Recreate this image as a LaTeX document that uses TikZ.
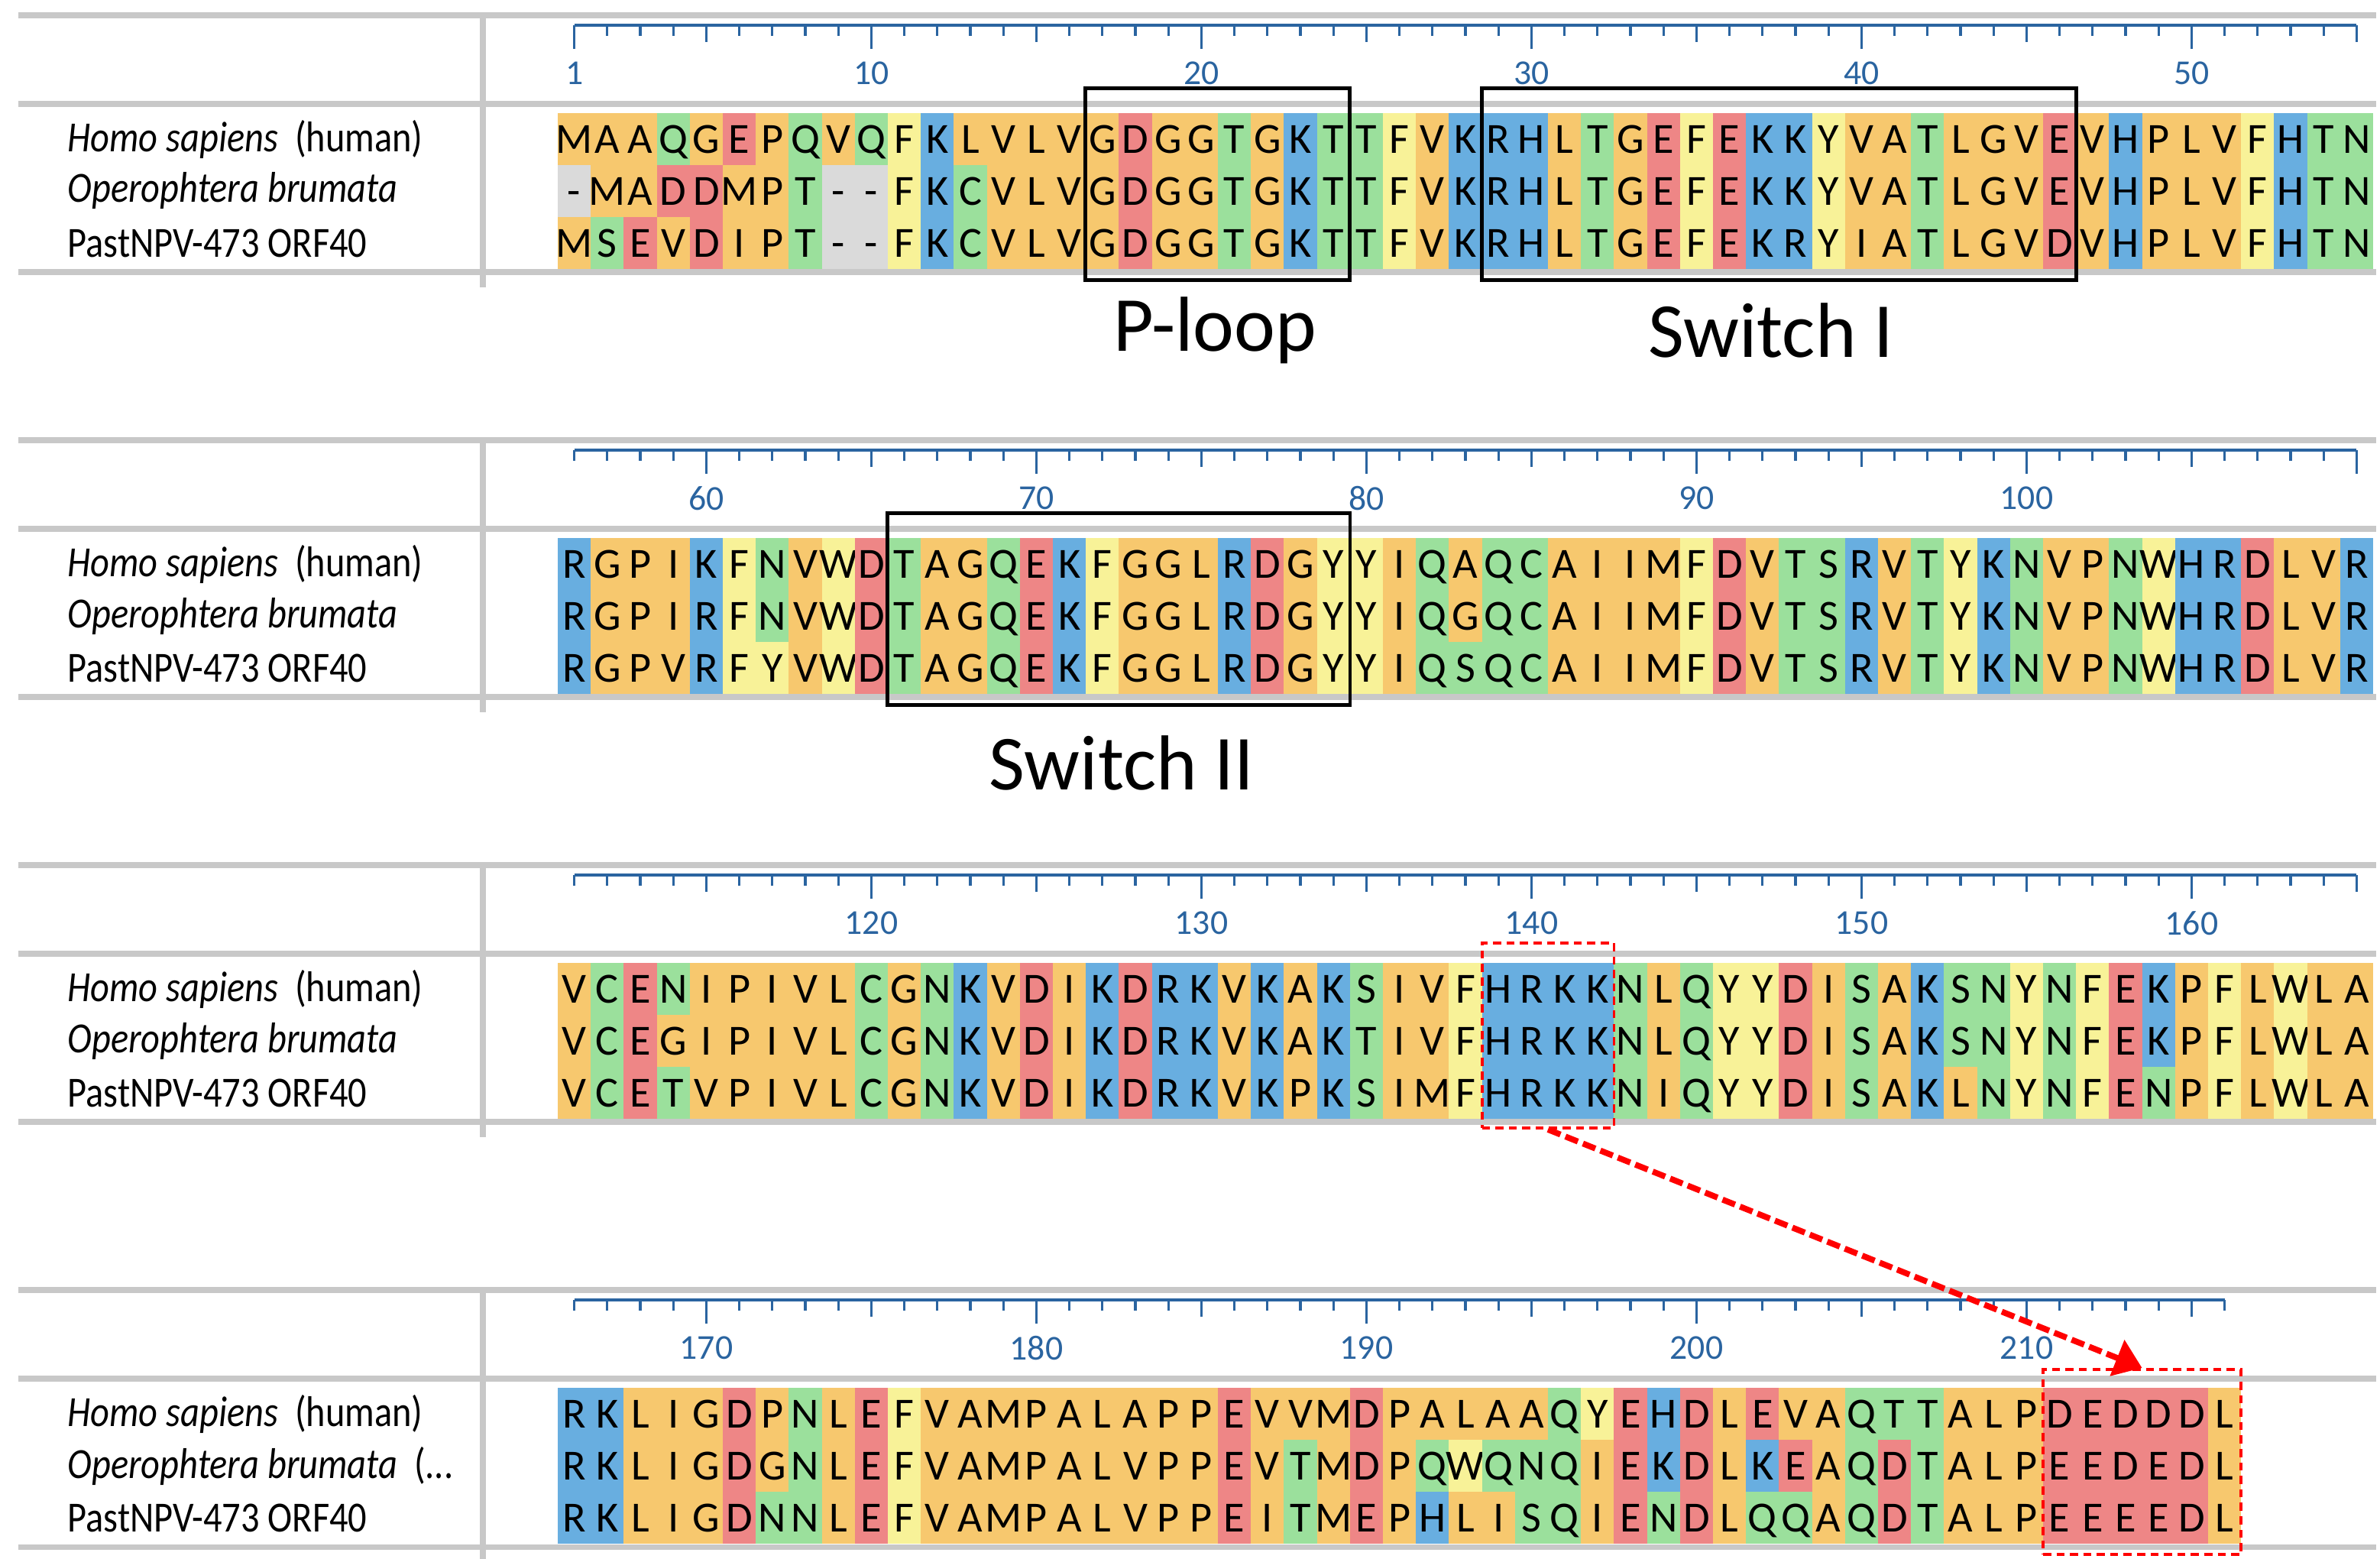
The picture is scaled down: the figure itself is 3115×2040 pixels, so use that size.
\documentclass[tikz,border=0pt]{standalone}
\usepackage{fontspec}
\setmainfont{Carlito}
\newfontfamily\labfont[FakeStretch=0.86]{Carlito}
\usetikzlibrary{arrows.meta}
\definecolor{corange}{HTML}{F7C86E}
\definecolor{cgreen}{HTML}{9BE09C}
\definecolor{cred}{HTML}{EE8686}
\definecolor{cblue}{HTML}{68AEE0}
\definecolor{cyellow}{HTML}{F8F298}
\definecolor{cgap}{HTML}{DADADA}
\definecolor{gline}{HTML}{C8C8C8}
\definecolor{rblue}{HTML}{2A64A0}
\colorlet{cA}{corange}\colorlet{cV}{corange}\colorlet{cL}{corange}\colorlet{cI}{corange}
\colorlet{cM}{corange}\colorlet{cP}{corange}\colorlet{cG}{corange}
\colorlet{cF}{cyellow}\colorlet{cY}{cyellow}\colorlet{cW}{cyellow}
\colorlet{cD}{cred}\colorlet{cE}{cred}
\colorlet{cK}{cblue}\colorlet{cR}{cblue}\colorlet{cH}{cblue}
\colorlet{cS}{cgreen}\colorlet{cT}{cgreen}\colorlet{cN}{cgreen}\colorlet{cQ}{cgreen}\colorlet{cC}{cgreen}
\newcount\ci
\def\seqrow#1#2#3{\ci=0 \def\rb{#1}\def\ry{#2}\seqloop#3\relax}
\def\seqloop#1{\ifx#1\relax\else\rescell{#1}\advance\ci by 1 \expandafter\seqloop\fi}
\def\rescell#1{\ifx#1-\def\cc{cgap}\else\def\cc{c#1}\fi
 \pgfmathsetmacro\cx{730+\the\ci*43.2}\pgfmathsetmacro\cy{\rb+148+\ry*68}%
 \fill[\cc] (\cx,\cy) rectangle ++(43.2,68);%
 \node[res] (n\rb-\ry-\the\ci) at (\cx+21.6,\cy+34) {#1};}
\def\ruler#1#2#3{% yoff, startpos, ncols
 \pgfmathsetmacro\rx{751.6+(#3-1)*43.2}
 \draw[rblue,line width=0.9pt] (751.6,#1+33) coordinate (rs#1) -- (\rx,#1+33) coordinate (re#1);
 \foreach \j in {0,...,\numexpr#3-1\relax}{
  \pgfmathtruncatemacro\pos{#2+\j}
  \pgfmathsetmacro\tx{751.6+\j*43.2}
  \pgfmathtruncatemacro\mt{mod(\pos,10)}\pgfmathtruncatemacro\mf{mod(\pos,5)}
  \def\tl{14}
  \ifnum\mf=0 \def\tl{22}\fi
  \ifnum\mt=0 \def\tl{31}\fi
  \ifnum\pos=1 \def\tl{31}\fi
  \draw[rblue,line width=0.9pt] (\tx,#1+33) -- (\tx,#1+33+\tl);
  \ifnum\j<\numexpr#3-1\relax
   \ifnum\mt=0 \node[num] (num\pos) at (\tx,#1+96) {\pos};\fi
  \fi
  \ifnum\pos=1 \node[num] (num\pos) at (\tx,#1+96) {\pos};\fi
 }}
\def\frame#1{%
 \draw[gline,line width=2pt] (24,#1+20) -- (3110,#1+20);
 \draw[gline,line width=2pt] (24,#1+136) -- (3110,#1+136);
 \draw[gline,line width=2pt] (24,#1+356) -- (3110,#1+356);
 \draw[gline,line width=2pt] (632,#1+20) -- (632,#1+376);}
\begin{document}
\begin{tikzpicture}[x=0.01cm,y=-0.01cm,
 res/.style={font=\fontsize{16}{16}\selectfont,inner sep=0pt,text height=10.3pt,text depth=0pt},
 num/.style={font=\fontsize{13}{13}\selectfont,text=rblue,inner sep=0pt},
 lab/.style={font=\labfont\fontsize{16}{16}\selectfont,anchor=west,inner sep=0pt},
 big/.style={font=\fontsize{29}{29}\selectfont,inner sep=0pt},
 bbox/.style={draw=black,line width=1.4pt,inner sep=0pt},
 rbox/.style={draw=red,dash pattern=on 3pt off 2pt,line width=1.1pt,inner sep=0pt}]
\useasboundingbox (0,0) rectangle (3115,2040);
\fill[white] (0,0) rectangle (3115,2040);
\foreach \b in {0,556,1112,1668}{\frame{\b}}
\ruler{0}{1}{55}\ruler{556}{56}{55}\ruler{1112}{111}{55}\ruler{1668}{166}{51}
\seqrow{0}{0}{MAAQGEPQVQFKLVLVGDGGTGKTTFVKRHLTGEFEKKYVATLGVEVHPLVFHTN}
\seqrow{0}{1}{-MADDMPT--FKCVLVGDGGTGKTTFVKRHLTGEFEKKYVATLGVEVHPLVFHTN}
\seqrow{0}{2}{MSEVDIPT--FKCVLVGDGGTGKTTFVKRHLTGEFEKRYIATLGVDVHPLVFHTN}
\seqrow{556}{0}{RGPIKFNVWDTAGQEKFGGLRDGYYIQAQCAIIMFDVTSRVTYKNVPNWHRDLVR}
\seqrow{556}{1}{RGPIRFNVWDTAGQEKFGGLRDGYYIQGQCAIIMFDVTSRVTYKNVPNWHRDLVR}
\seqrow{556}{2}{RGPVRFYVWDTAGQEKFGGLRDGYYIQSQCAIIMFDVTSRVTYKNVPNWHRDLVR}
\seqrow{1112}{0}{VCENIPIVLCGNKVDIKDRKVKAKSIVFHRKKNLQYYDISAKSNYNFEKPFLWLA}
\seqrow{1112}{1}{VCEGIPIVLCGNKVDIKDRKVKAKTIVFHRKKNLQYYDISAKSNYNFEKPFLWLA}
\seqrow{1112}{2}{VCETVPIVLCGNKVDIKDRKVKPKSIMFHRKKNIQYYDISAKLNYNFENPFLWLA}
\seqrow{1668}{0}{RKLIGDPNLEFVAMPALAPPEVVMDPALAAQYEHDLEVAQTTALPDEDDDL}
\seqrow{1668}{1}{RKLIGDGNLEFVAMPALVPPEVTMDPQWQNQIEKDLKEAQDTALPEEDEDL}
\seqrow{1668}{2}{RKLIGDNNLEFVAMPALVPPEITMEPHLISQIENDLQQAQDTALPEEEEDL}
\foreach \b/\o in {0/{\textit{Operophtera brumata}},556/{\textit{Operophtera brumata}},1112/{\textit{Operophtera brumata}},1668/{\textit{Operophtera brumata}\ \ (...}}{
 \node[lab] (h\b) at (88,\b+182) {\textit{Homo sapiens}\ \ (human)};
 \node[lab] (o\b) at (88,\b+250) {\o};
 \node[lab] (p\b) at (88,\b+318) {PastNPV-473 ORF40};}
% black boxes
\node[bbox,minimum width=3.456cm,minimum height=2.5cm] (ploop) at (1593.6,241) {};
\node[bbox,minimum width=7.776cm,minimum height=2.5cm] (sw1) at (2328.4,241) {};
\node[bbox,minimum width=6.048cm,minimum height=2.5cm] (sw2) at (1464.4,797) {};
\node[big] (lploop) at (1590,432) {P-loop};
\node[big] (lsw1) at (2318,432) {Switch I};
\node[big] (lsw2) at (1468,998) {Switch II};
% red boxes
\node[rbox,minimum width=1.728cm,minimum height=2.42cm] (hrkk) at (2026,1355) {};
\node[rbox,minimum width=2.592cm,minimum height=2.42cm] (ded) at (2803.6,1913) {};
\draw[red,dash pattern=on 5pt off 2pt,line width=2.2pt,-{Triangle[width=14pt,length=10pt]}] (hrkk.south) -- (ded.north);
\end{tikzpicture}
\end{document}
